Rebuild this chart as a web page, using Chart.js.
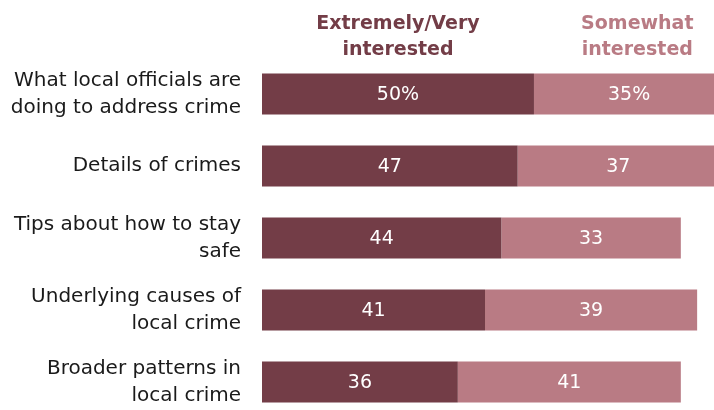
<!DOCTYPE html>
<html>
<head>
<meta charset="utf-8">
<script src="https://cdn.jsdelivr.net/npm/chart.js"></script>
<style>
  html, body { margin: 0; padding: 0; background: #fff; overflow: hidden; }
  #wrap { width: 714px; height: 420px; }
</style>
</head>
<body>
<div id="wrap"><canvas id="myChart" width="714" height="420"></canvas></div>
<script>
const categories = [
  ['What local officials are', 'doing to address crime'],
  ['Details of crimes'],
  ['Tips about how to stay', 'safe'],
  ['Underlying causes of', 'local crime'],
  ['Broader patterns in', 'local crime'],
];
const veryInterested = [50, 47, 44, 41, 36];
const somewhatInterested = [35, 37, 33, 39, 41];
const seriesNames = [['Extremely/Very', 'interested'], ['Somewhat', 'interested']];
const headerAt = [25, 69];

const darkColor = '#733d47';
const lightColor = '#b97b84';
const font = "'DejaVu Sans', Verdana, sans-serif";

// value labels inside each segment + column headers
const labelsPlugin = {
  id: 'labels',
  afterDatasetsDraw(chart) {
    const ctx = chart.ctx;
    ctx.save();
    ctx.font = '19px ' + font;
    ctx.fillStyle = '#ffffff';
    ctx.textAlign = 'center';
    ctx.textBaseline = 'middle';
    chart.data.datasets.forEach((ds, di) => {
      chart.getDatasetMeta(di).data.forEach((bar, i) => {
        const txt = ds.data[i] + (i === 0 ? '%' : '');
        ctx.fillText(txt, (bar.x + bar.base) / 2, bar.y + 1);
      });
    });

    const x = chart.scales.x;
    ctx.font = 'bold 19px ' + font;
    ctx.textBaseline = 'alphabetic';
    seriesNames.forEach((lines, di) => {
      ctx.fillStyle = di === 0 ? darkColor : lightColor;
      lines.forEach((ln, li) => {
        ctx.fillText(ln, x.getPixelForValue(headerAt[di]), 29 + li * 26);
      });
    });
    ctx.restore();
  },
};

const data = {
  labels: categories,
  datasets: [
    {
      label: 'Extremely/Very interested',
      backgroundColor: darkColor,
      data: veryInterested,
    },
    {
      label: 'Somewhat interested',
      backgroundColor: lightColor,
      data: somewhatInterested,
    },
  ],
};

const config = {
  type: 'bar',
  data: data,
  options: {
    indexAxis: 'y',
    responsive: false,
    animation: false,
    layout: { padding: { top: 58, bottom: 2, left: 0, right: 0 } },
    datasets: {
      bar: { barPercentage: 0.57, categoryPercentage: 1 },
    },
    plugins: {
      legend: { display: false },
      tooltip: { enabled: false },
    },
    scales: {
      x: {
        stacked: true,
        min: 0,
        max: 83.1,
        display: false,
      },
      y: {
        stacked: true,
        border: { display: false },
        grid: { display: false, drawTicks: false },
        afterFit(scale) {
          scale.width = 262;
          scale.paddingTop = 0;
          scale.paddingBottom = 0;
        },
        ticks: {
          padding: 21,
          color: '#1a1a1a',
          font: { family: font, size: 20, lineHeight: 1.35 },
        },
      },
    },
  },
  plugins: [labelsPlugin],
};

const myChart = new Chart(document.getElementById('myChart'), config);
</script>
</body>
</html>
